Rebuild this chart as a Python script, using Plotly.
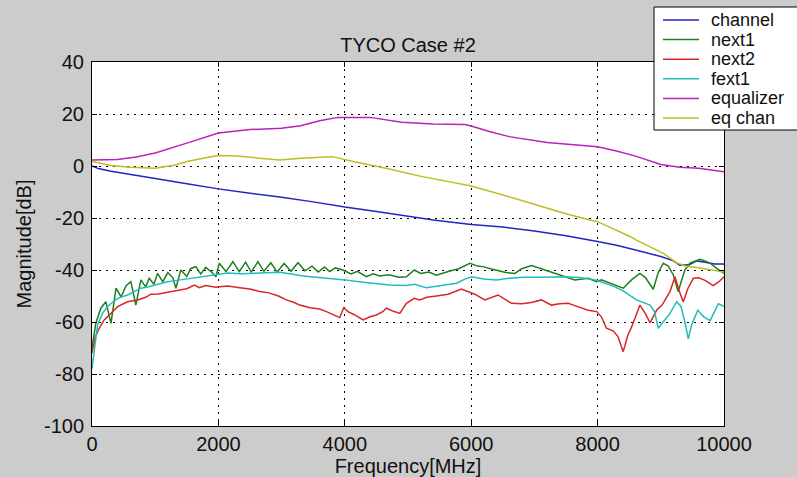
import plotly.graph_objects as go

# ---- series data (frequency in MHz, magnitude in dB) ----
series_names = ["channel", "next1", "next2", "fext1", "equalizer", "eq chan"]
series_colors = ["#2424c4", "#1f7f1f", "#d92626", "#22bcbc", "#b822b8", "#bdbd22"]

channel_f = [0, 100, 300, 700, 1000, 1500, 2000, 2500, 3000, 3500, 4000, 4500, 5000,
             5400, 6000, 6500, 7000, 7500, 8000, 8300, 8600, 9000, 9200, 9300, 9450,
             9570, 9700, 9850, 10000]
channel_db = [0, -1.0, -2.0, -3.5, -4.8, -6.8, -8.8, -10.5, -12.0, -13.8, -15.8, -17.5,
              -19.2, -20.8, -22.5, -23.5, -25.0, -26.8, -29.0, -30.5, -32.3, -34.8,
              -36.5, -38.2, -38.0, -36.5, -37.0, -37.7, -37.7]

next1_f = [0, 60, 140, 220, 300, 380, 460, 540, 615, 694, 773, 850, 905, 980, 1037,
           1120, 1200, 1280, 1327, 1406, 1500, 1560, 1644, 1720, 1800, 1880, 1960, 2014,
           2120, 2230, 2330, 2430, 2520, 2625, 2720, 2830, 2930, 3040, 3150, 3260, 3370,
           3480, 3580, 3680, 3760, 3850, 3970, 4100, 4200, 4340, 4450, 4550, 4700, 4850,
           4975, 5100, 5200, 5330, 5450, 5530, 5650, 5800, 5900, 5980, 6100, 6200, 6320,
           6450, 6550, 6690, 6800, 6955, 7100, 7250, 7430, 7640, 7850, 7985, 8060, 8195,
           8405, 8550, 8670, 8760, 8880, 8960, 9040, 9120, 9200, 9275, 9330, 9380, 9460,
           9570, 9620, 9700, 9780, 9885, 10000]
next1_db = [-70, -60.5, -54.7, -52.2, -60.5, -47, -50.3, -46, -44.5, -53.5, -43.8, -46.5,
            -43.2, -45.5, -41.3, -44.5, -41, -43, -47, -40, -42.5, -39.5, -38.7, -41.5,
            -39, -40.5, -42.6, -37.4, -40.6, -36.8, -40.6, -37, -40.8, -36.8, -40.5, -37.2,
            -40.8, -37.5, -40.5, -37.2, -40.3, -38.5, -40.8, -38.8, -40.6, -39.2, -40,
            -41.5, -40.5, -42.6, -41.5, -42.3, -41.8, -42.8, -42.6, -40, -41.3, -40.8, -42,
            -41.3, -40.5, -39.5, -38.2, -37.4, -38.5, -38.8, -39.6, -40.5, -41, -41.3, -39.5,
            -38.3, -39.5, -40.8, -42, -43.8, -43.2, -44.5, -43.8, -45.1, -47, -43.5, -41.3,
            -43, -47.4, -41, -37.4, -38.5, -42, -48.3, -44, -40, -37.4, -36.2, -35.9, -36.5,
            -37.4, -39.4, -41.3]

next2_f = [0, 50, 114, 193, 298, 404, 562, 720, 850, 931, 1050, 1196, 1300, 1406, 1500,
           1618, 1700, 1800, 1881, 1960, 2020, 2150, 2336, 2500, 2652, 2800, 2950, 3075,
           3200, 3286, 3450, 3600, 3710, 3800, 3920, 3983, 4050, 4150, 4290, 4400, 4500,
           4600, 4660, 4760, 4870, 4975, 5100, 5185, 5300, 5450, 5635, 5845, 5950, 6055,
           6215, 6300, 6425, 6550, 6640, 6800, 6950, 7110, 7270, 7400, 7535, 7650, 7745,
           7850, 7985, 8060, 8140, 8250, 8320, 8405, 8480, 8540, 8670, 8760, 8830, 8935,
           9020, 9145, 9225, 9290, 9355, 9430, 9515, 9600, 9700, 9830, 9920, 10000]
next2_db = [-72, -66, -62.4, -59.2, -56.7, -54.1, -52.2, -51.5, -50.5, -49.3, -49.2, -48.6,
            -48.2, -47.7, -47.2, -45.8, -46.8, -46, -46.2, -46.6, -46.4, -46.2, -46.8,
            -47.3, -48.3, -48.8, -50, -51.5, -52.5, -53.5, -54.5, -55, -56, -57, -58.3,
            -54.5, -56, -57.2, -59.2, -58, -57.3, -56, -54.7, -55.8, -56.7, -52.8, -50.9,
            -51.5, -50.5, -50, -49.3, -47.3, -48.2, -49.3, -51.5, -50.8, -49.6, -51.5,
            -52.8, -53, -52.5, -51.5, -53.5, -53, -52.8, -53.8, -54.7, -55.5, -56, -58,
            -62.4, -63.5, -65.5, -71.4, -65, -61.8, -53.5, -57, -60.3, -55.4, -53.5, -48.3,
            -42.6, -48, -52.2, -47, -43.2, -43, -44, -46, -44.5, -42.6]

fext1_f = [0, 45, 87, 166, 245, 320, 404, 562, 650, 773, 880, 985, 1100, 1196, 1400,
           1618, 1800, 1935, 2146, 2350, 2546, 2750, 2969, 3150, 3340, 3550, 3760, 4000,
           4290, 4500, 4710, 4975, 5105, 5290, 5500, 5767, 5900, 6005, 6200, 6400, 6600,
           6822, 7100, 7480, 7720, 7960, 8115, 8250, 8405, 8615, 8830, 8900, 8960, 9040,
           9145, 9250, 9320, 9380, 9435, 9490, 9540, 9585, 9680, 9780, 9850, 9910, 10000]
fext1_db = [-78, -68.8, -61.2, -56.7, -54.1, -52.5, -50.9, -49.6, -48.5, -47, -46.5, -45.8,
            -45, -44.5, -43.8, -43, -42.2, -41.7, -41.2, -41.4, -41.3, -41, -40.9, -41.5,
            -42.3, -42.8, -43.2, -43.8, -44.7, -45.2, -45.8, -46, -45.5, -46.8, -46, -45.1,
            -43.5, -42.6, -43.5, -43.8, -43.2, -42.8, -42.8, -42.6, -42.9, -43.8, -45.1,
            -46.2, -48, -51.5, -53.5, -56, -62.4, -59.8, -56.7, -52.2, -54, -60, -66.5, -61,
            -58, -55.5, -58, -59.5, -56, -53, -54]

equalizer_f = [0, 400, 700, 1000, 1500, 2000, 2500, 3000, 3300, 3600, 3900, 4400, 4900,
               5400, 5900, 6000, 6300, 6600, 7200, 7600, 8000, 8300, 8600, 9000, 9300,
               9600, 10000]
equalizer_db = [2.3, 2.5, 3.5, 5.0, 8.8, 12.7, 14.0, 14.5, 15.5, 17.4, 18.7, 18.7, 16.8,
                16.2, 16.0, 15.4, 13.2, 11.3, 9.0, 8.2, 7.4, 5.8, 3.8, 0.6, -0.5, -0.9, -2.2]

eqchan_f = [0, 300, 600, 1000, 1300, 1500, 1800, 2000, 2300, 2550, 2970, 3300, 3600, 3800,
            4130, 4650, 5170, 5440, 6000, 6680, 7470, 7880, 8000, 8520, 8615, 9040, 9250,
            9410, 9570, 10000]
eqchan_db = [1.7, 0.2, -0.5, -0.9, 0.3, 1.7, 3.2, 4.0, 3.8, 3.3, 2.3, 3.0, 3.3, 3.6, 1.7,
             -0.9, -3.8, -5.1, -7.7, -12.4, -18.2, -20.8, -21.4, -27.2, -28.5, -33.6, -37.2,
             -38.7, -39.0, -40.8]

x_ticks = [0, 2000, 4000, 6000, 8000, 10000]
y_ticks = [-100, -80, -60, -40, -20, 0, 20, 40]

freqs = [channel_f, next1_f, next2_f, fext1_f, equalizer_f, eqchan_f]
mags = [channel_db, next1_db, next2_db, fext1_db, equalizer_db, eqchan_db]

FONT = "Arial, Liberation Sans, sans-serif"
W, H = 797, 477
L, R, T, B = 92, 73, 62, 51
PW, PH = W - L - R, H - T - B

fig = go.Figure()
for name, color, f, m in zip(series_names, series_colors, freqs, mags):
    fig.add_trace(go.Scatter(x=f, y=m, mode="lines", name=name,
                             line=dict(color=color, width=1.5)))

axis_common = dict(
    ticks="inside", ticklen=5, tickcolor="black",
    showline=True, linecolor="black", linewidth=1, mirror="ticks",
    showgrid=True, gridcolor="black", gridwidth=1, griddash="2px,5px",
    zeroline=False, tickfont=dict(family=FONT, size=20, color="#111"),
)

fig.update_layout(
    width=W, height=H,
    paper_bgcolor="#cccccc", plot_bgcolor="white",
    margin=dict(l=L, r=R, t=T, b=B, autoexpand=False),
    showlegend=False,
    title=dict(text="TYCO Case #2", x=0.5, xref="paper", xanchor="center",
               y=1 - 45 / H, yref="container", yanchor="middle",
               font=dict(family=FONT, size=20, color="#111")),
    xaxis=dict(range=[0, 10000], tickmode="array", tickvals=x_ticks,
               ticktext=[str(v) for v in x_ticks],
               title=dict(text="Frequency[MHz]", standoff=3,
                          font=dict(family=FONT, size=20, color="#111")),
               **axis_common),
    yaxis=dict(range=[-100, 40], tickmode="array", tickvals=y_ticks,
               ticktext=[str(v) for v in y_ticks], ticklabelstandoff=3,
               title=dict(text="Magnitude[dB]", standoff=6,
                          font=dict(family=FONT, size=20, color="#111")),
               **axis_common),
)

# Legend box drawn in the upper right corner, partly over the axes
def px_x(p):
    return (p - L) / PW

def px_y(p):
    return (H - B - p) / PH

box_left, box_top, box_bottom = 654, 7, 130
fig.add_shape(type="rect", xref="paper", yref="paper",
              x0=px_x(box_left), x1=px_x(W + 5), y0=px_y(box_bottom), y1=px_y(box_top),
              fillcolor="white", line=dict(color="black", width=1), layer="above")
row0, row_step = 20, 19.6
for i, (name, color) in enumerate(zip(series_names, series_colors)):
    yy = row0 + i * row_step
    fig.add_shape(type="line", xref="paper", yref="paper",
                  x0=px_x(663), x1=px_x(699), y0=px_y(yy), y1=px_y(yy),
                  line=dict(color=color, width=1.5), layer="above")
    fig.add_annotation(text=name, xref="paper", yref="paper",
                       x=px_x(709), y=px_y(yy), xanchor="left", yanchor="middle",
                       showarrow=False, font=dict(family=FONT, size=18, color="#111"))

fig.write_html("out.html")
